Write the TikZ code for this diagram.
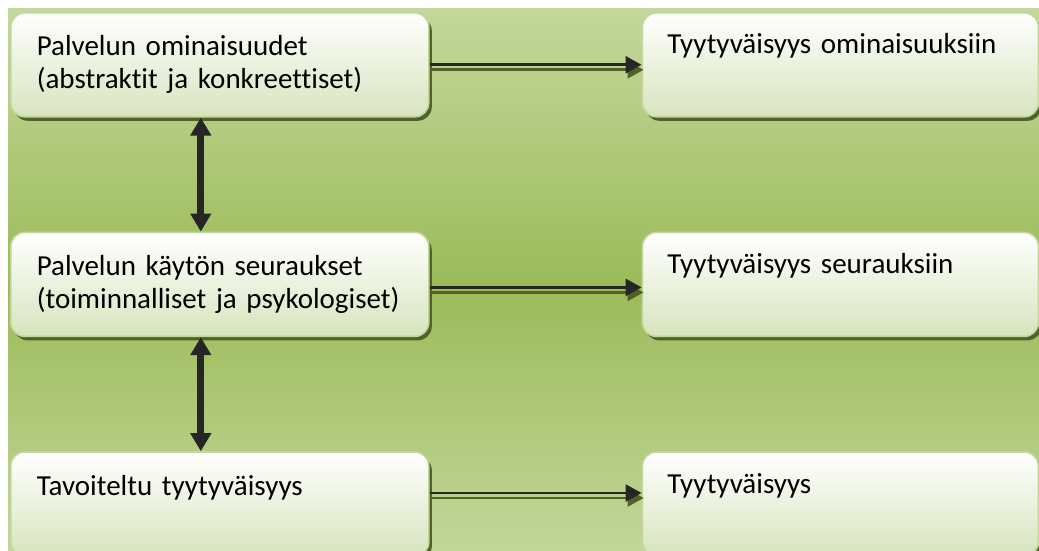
\documentclass[tikz,border=0pt]{standalone}
\usepackage{fontspec}
\setmainfont{Carlito}[Ligatures=NoCommon]
\usepackage{tikz}
\usetikzlibrary{arrows.meta,positioning,shadows}
\definecolor{bgtop}{HTML}{C4D79C}
\definecolor{bgmid}{HTML}{9BBB59}
\definecolor{boxgreen}{HTML}{D7E4BD}
\definecolor{boxedge}{HTML}{C3D69B}
\definecolor{shadowgreen}{HTML}{4F6228}
\definecolor{arrgray}{HTML}{262626}

\begin{document}
\begin{tikzpicture}[
  x=0.5pt,y=-0.5pt,
  node distance=57pt and 106pt,
  lbox/.style={draw=boxedge,line width=0.8pt,rounded corners=7pt,top color=white,bottom color=boxgreen,
    align=left,text width=183pt,inner xsep=13pt,inner ysep=0pt,text height=21.5pt,text depth=30.5pt,
    font=\fontsize{14.5}{16.5}\selectfont,
    drop shadow={shadow xshift=1.5pt,shadow yshift=-2pt,fill=shadowgreen,opacity=1}},
  rbox/.style={lbox,text width=173pt,inner xsep=12.5pt,text height=20.5pt,text depth=31.5pt},
  varr/.style={{Triangle[width=10pt,length=9pt]}-{Triangle[width=10pt,length=9pt]},line width=3.5pt,draw=arrgray},
  harr/.style={-{Triangle[width=8.5pt,length=8pt]},line width=1.3pt,draw=arrgray},
  hshadow/.style={harr,draw=shadowgreen,transform canvas={shift={(1pt,-2.5pt)}}}
]
\useasboundingbox (0,0) rectangle (1039,551);
\shade[top color=bgtop,bottom color=bgmid] (8,9) rectangle (1045,285);
\shade[top color=bgmid,bottom color=bgtop] (8,284) rectangle (1045,560);

\node[lbox,anchor=north west] (prop) at (10,12) {Palvelun ominaisuudet\\(abstraktit ja konkreettiset)};
\node[lbox,below=of prop] (cons) {Palvelun käytön seuraukset\\(toiminnalliset ja psykologiset)};
\node[lbox,below=of cons] (goal) {Tavoiteltu tyytyväisyys};
\node[rbox,right=of prop] (sprop) {Tyytyväisyys ominaisuuksiin};
\node[rbox,right=of cons] (scons) {Tyytyväisyys seurauksiin};
\node[rbox,right=of goal] (sat) {Tyytyväisyys};

\foreach \a/\b/\dy in {prop/sprop/0pt,cons/scons/-1.5pt,goal/sat/5.5pt}{
  \draw[hshadow] ([yshift=\dy]\a.east) -- ([yshift=\dy]\b.west);
  \draw[harr] ([yshift=\dy]\a.east) -- ([yshift=\dy]\b.west);
}
\draw[varr] ([xshift=-9.5pt]prop.south) -- ([xshift=-9.5pt]cons.north);
\draw[varr] ([xshift=-9.5pt]cons.south) -- ([xshift=-9.5pt]goal.north);
\end{tikzpicture}
\end{document}
